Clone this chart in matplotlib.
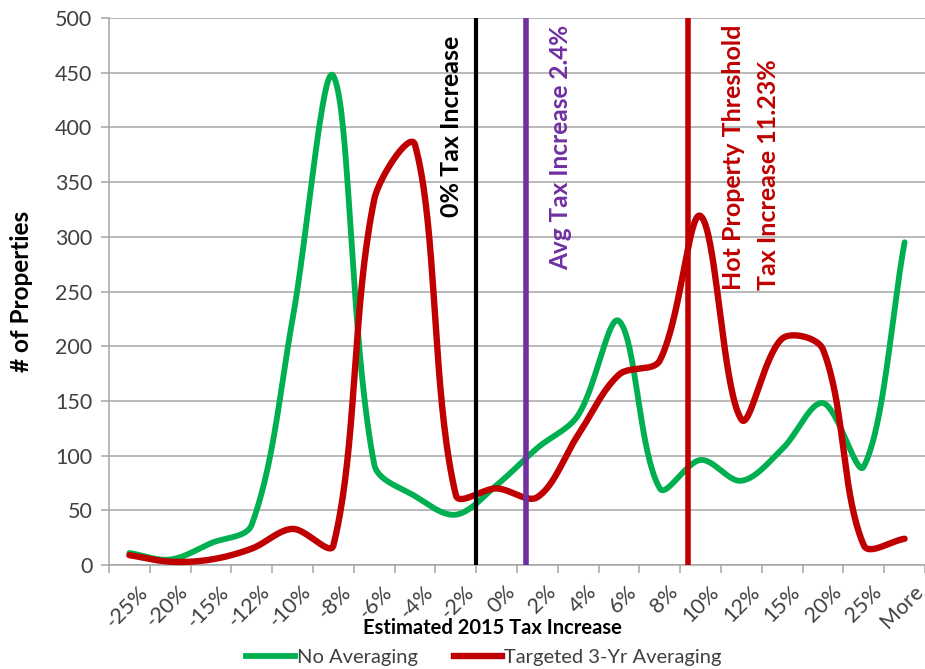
import numpy as np
import matplotlib
matplotlib.use("Agg")
import matplotlib.pyplot as plt
from matplotlib.lines import Line2D

categories = ["-25%", "-20%", "-15%", "-12%", "-10%", "-8%", "-6%", "-4%", "-2%", "0%",
              "2%", "4%", "6%", "8%", "10%", "12%", "15%", "20%", "25%", "More"]
no_averaging = [11, 5, 20, 37, 225, 447, 92, 63, 46, 73, 107, 137, 223, 70, 96, 77, 106, 148, 90, 295]
targeted_avg = [9, 3, 5, 15, 33, 18, 334, 384, 64, 70, 62, 119, 174, 187, 319, 133, 207, 197, 18, 24]
marker_zero = 8.5     # 0% Tax Increase (category units)
marker_avg = 9.71     # Avg Tax Increase 2.4%
marker_hot = 13.69    # Hot Property Threshold 11.23%

plt.rcParams['font.family'] = ['Lato', 'DejaVu Sans']

GREEN = "#00B050"
RED = "#C00000"
PURPLE = "#7030A0"
TXT = "#404040"

SX, SY = 41.2, 547 / 500.0   # pixel scale used for chord lengths


def smooth(xs, ys, n=40):
    P = np.column_stack([np.asarray(xs, float) * SX, np.asarray(ys, float) * SY])
    m = len(P)
    out = []
    for i in range(m - 1):
        p0 = P[i - 1] if i > 0 else P[i]
        p1 = P[i]
        p2 = P[i + 1]
        p3 = P[i + 2] if i + 2 < m else P[i + 1]
        d01 = np.linalg.norm(p1 - p0)
        d12 = np.linalg.norm(p2 - p1)
        d23 = np.linalg.norm(p3 - p2)
        if i > 0:
            c1 = p1 + (p2 - p0) * d12 / (d01 + d12) / 3.0
        else:
            c1 = p1 + (p2 - p1) / 3.0
        if i + 2 < m:
            c2 = p2 - (p3 - p1) * d12 / (d12 + d23) / 3.0
        else:
            c2 = p2 - (p2 - p1) / 3.0
        t = np.linspace(0, 1, n)[:, None]
        seg = (1 - t) ** 3 * p1 + 3 * (1 - t) ** 2 * t * c1 + 3 * (1 - t) * t ** 2 * c2 + t ** 3 * p2
        out.append(seg if i == 0 else seg[1:])
    arr = np.vstack(out)
    return arr[:, 0] / SX, arr[:, 1] / SY


fig = plt.figure(figsize=(9.25, 6.69), dpi=100)
ax = fig.add_axes([109 / 925, 1 - 565 / 669, (925 - 109) / 925, (565 - 18) / 669])

x = np.arange(len(categories))
gx, gy = smooth(x, no_averaging)
rx, ry = smooth(x, targeted_avg)

ax.set_xlim(-0.5, 19.3)
ax.set_ylim(0, 500)
ax.set_yticks(np.arange(0, 501, 50))
ax.yaxis.grid(True, color="#A6A6A6", linewidth=1.1)
ax.set_axisbelow(True)

ax.plot(gx, gy, color=GREEN, linewidth=4.2, solid_capstyle="round", zorder=3, clip_on=False)
ax.plot(rx, ry, color=RED, linewidth=4.6, solid_capstyle="round", zorder=3, clip_on=False)

ax.plot([marker_zero, marker_zero], [0, 500], color="black", linewidth=3, zorder=4)
ax.plot([marker_avg, marker_avg], [0, 500], color=PURPLE, linewidth=4, zorder=4)
ax.plot([marker_hot, marker_hot], [2, 500], color=RED, linewidth=4, zorder=4)

ax.text(7.89, 318, "0% Tax Increase", rotation=90, ha="center", va="bottom",
        fontsize=18, fontweight="bold", color="black", zorder=5)
ax.text(10.56, 270, "Avg Tax Increase 2.4%", rotation=90, ha="center", va="bottom",
        fontsize=17.6, fontweight="bold", color=PURPLE, zorder=5)
ax.text(14.81, 251, "Hot Property Threshold", rotation=90, ha="center", va="bottom",
        fontsize=18, fontweight="bold", color=RED, zorder=5)
ax.text(15.66, 251, "Tax Increase 11.23%", rotation=90, ha="center", va="bottom",
        fontsize=18, fontweight="bold", color=RED, zorder=5)

for s in ["top", "right"]:
    ax.spines[s].set_visible(False)
for s in ["left", "bottom"]:
    ax.spines[s].set_color("#A6A6A6")
    ax.spines[s].set_linewidth(1.1)

ax.set_xticks(x)
ax.set_xticklabels(categories, rotation=45, ha="right", rotation_mode="anchor",
                   fontsize=15.5, color=TXT)
ax.set_xticks(np.arange(-0.5, 19.6, 1), minor=True)
ax.tick_params(axis="x", which="major", length=0, pad=12)
ax.tick_params(axis="x", which="minor", length=6, color="#A6A6A6", width=1.1)
ax.tick_params(axis="y", length=6, color="#A6A6A6", width=1.1, labelsize=15.5,
               labelcolor=TXT, pad=6)
for lab in ax.get_xticklabels():
    lab.set_transform(lab.get_transform() + matplotlib.transforms.ScaledTranslation(8 / 100, 0, fig.dpi_scale_trans))

fig.text(22 / 925, 1 - 291 / 669, "# of Properties", rotation=90, ha="center", va="center",
         fontsize=17.5, fontweight="bold", color="black")
fig.text(492 / 925, 1 - 628 / 669, "Estimated 2015 Tax Increase", ha="center", va="center",
         fontsize=14.5, fontweight="bold", color="black")

handles = [Line2D([], [], color=GREEN, linewidth=4.2),
           Line2D([], [], color=RED, linewidth=4.6)]
fig.legend(handles, ["No Averaging", "Targeted 3-Yr Averaging"], loc="center",
           bbox_to_anchor=(484 / 925, 1 - 657 / 669), ncol=2, frameon=False,
           fontsize=14.5, handlelength=2.4, handletextpad=0.1, columnspacing=1.8,
           labelcolor=TXT)

fig.savefig("out.png", dpi=100)
